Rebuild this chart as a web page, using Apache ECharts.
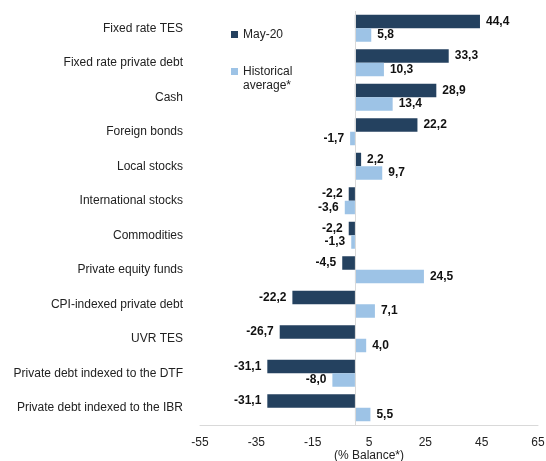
<!DOCTYPE html>
<html>
<head>
<meta charset="utf-8">
<script src="https://cdn.jsdelivr.net/npm/echarts@6/dist/echarts.min.js"></script>
<style>
  html, body { margin: 0; padding: 0; background: #ffffff; }
  #chart { width: 546px; height: 461px; }
</style>
</head>
<body>
<div id="chart"></div>
<script>
const categories = [
  "Fixed rate TES",
  "Fixed rate private debt",
  "Cash",
  "Foreign bonds",
  "Local stocks",
  "International stocks",
  "Commodities",
  "Private equity funds",
  "CPI-indexed private debt",
  "UVR TES",
  "Private debt indexed to the DTF",
  "Private debt indexed to the IBR"
];
const may20 = [44.4, 33.3, 28.9, 22.2, 2.2, -2.2, -2.2, -4.5, -22.2, -26.7, -31.1, -31.1];
const historical = [5.8, 10.3, 13.4, -1.7, 9.7, -3.6, -1.3, 24.5, 7.1, 4.0, -8.0, 5.5];
const tickValues = [-55, -35, -15, 5, 25, 45, 65];

const fontFamily = "Liberation Sans, Arial, sans-serif";

// numbers with a decimal comma
function fmt(v) {
  return v.toFixed(1).replace(".", ",");
}

let myChart = echarts.init(document.getElementById("chart"));

let barLabel = {
  show: true,
  position: "outside",
  distance: 6,
  color: "#111111",
  fontWeight: "bold",
  fontSize: 12,
  fontFamily: fontFamily,
  formatter: function (p) {
    return fmt(p.value);
  }
};

// legend icons: square centred for the one-line item, square on the first line for the two-line item
const iconCentered = "path://M0,7h7v7h-7zM3,0h0.01v0.01h-0.01zM3,21h0.01v0.01h-0.01z";
const iconTop = "path://M0,0h7v7h-7zM3,21h0.01v0.01h-0.01z";

let option = {
  animation: false,
  textStyle: { fontFamily: fontFamily },
  grid: {
    left: 200,
    right: 8,
    top: 11,
    bottom: 36,
    outerBoundsMode: "none"
  },
  legend: {
    orient: "vertical",
    left: 226,
    top: 19,
    itemWidth: 7,
    itemHeight: 21,
    itemGap: 19.5,
    itemTextGap: 1,
    textStyle: {
      fontSize: 12,
      color: "#222222",
      fontFamily: fontFamily,
      lineHeight: 14
    },
    formatter: function (name) {
      return name === "Historical average*" ? "Historical\naverage*" : name;
    },
    data: [
      { name: "May-20", icon: iconCentered },
      { name: "Historical average*", icon: iconTop }
    ]
  },
  xAxis: {
    type: "value",
    min: -55,
    max: 65,
    interval: 20,
    name: "(% Balance*)",
    nameLocation: "middle",
    nameGap: 25,
    nameMoveOverlap: false,
    nameTextStyle: { fontSize: 12, color: "#222222" },
    splitLine: { show: false },
    axisLine: { show: true, onZero: false, lineStyle: { color: "#d9d9d9", width: 1 } },
    axisTick: { show: false },
    axisLabel: {
      customValues: tickValues,
      fontSize: 12,
      color: "#222222",
      margin: 12,
      formatter: function (v) { return String(v); }
    }
  },
  yAxis: {
    type: "category",
    inverse: true,
    data: categories,
    axisLine: { show: false, onZero: false },
    axisTick: { show: false },
    axisLabel: {
      fontSize: 12,
      color: "#222222",
      margin: 17
    }
  },
  series: [
    {
      name: "May-20",
      type: "bar",
      data: may20,
      barWidth: 13.5,
      barGap: "0%",
      itemStyle: { color: "#24415f" },
      label: barLabel,
      markLine: {
        silent: true,
        symbol: "none",
        label: { show: false },
        lineStyle: { color: "#d9d9d9", width: 1, type: "solid" },
        data: [{ xAxis: 0 }]
      }
    },
    {
      name: "Historical average*",
      type: "bar",
      data: historical,
      barWidth: 13.5,
      itemStyle: { color: "#9dc3e6" },
      label: barLabel
    }
  ]
};

myChart.setOption(option);
</script>
</body>
</html>
